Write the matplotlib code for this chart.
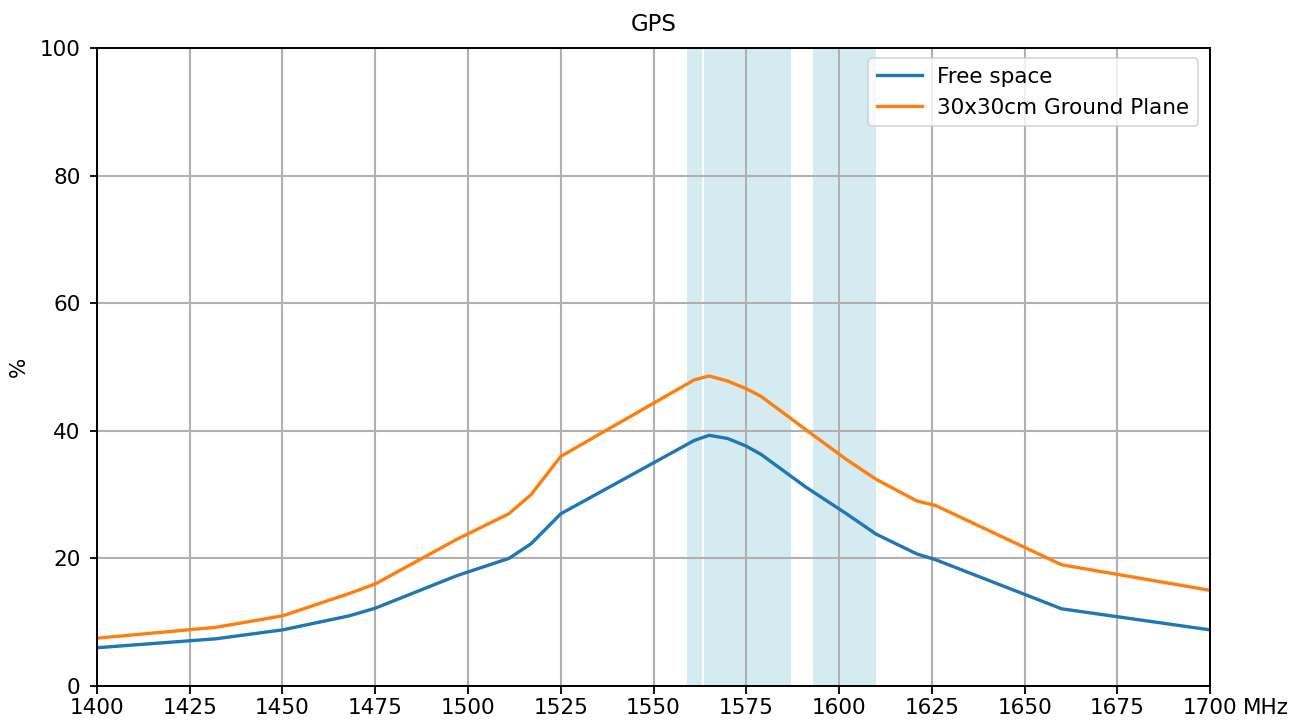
import matplotlib
matplotlib.use("Agg")
import matplotlib.pyplot as plt

freq = [1400, 1432, 1450, 1468, 1475, 1497, 1511, 1517, 1525, 1561, 1565, 1570,
        1575, 1579, 1591, 1602, 1610, 1621, 1626, 1660, 1700]
free_space = [6.0, 7.4, 8.8, 11.0, 12.2, 17.3, 20.0, 22.3, 27.0, 38.5, 39.3, 38.8,
              37.6, 36.3, 31.2, 27.0, 23.8, 20.7, 19.8, 12.1, 8.8]
ground_plane = [7.5, 9.2, 11.0, 14.5, 16.0, 23.0, 27.0, 30.0, 36.0, 48.0, 48.6, 47.8,
                46.6, 45.4, 40.2, 35.5, 32.4, 29.0, 28.3, 19.0, 15.0]
bands = [(1559, 1563), (1563.5, 1587), (1593, 1610)]
xticks = [1400, 1425, 1450, 1475, 1500, 1525, 1550, 1575, 1600, 1625, 1650, 1675, 1700]

fig = plt.figure(figsize=(13.05, 7.2), dpi=100)
ax = fig.add_axes([0.0743, 0.0472, 0.8530, 0.886])

for a, b in bands:
    ax.axvspan(a, b, color="lightblue", alpha=0.5, lw=0, zorder=0)

ax.plot(freq, free_space, color="#1f77b4", lw=2.4, label="Free space")
ax.plot(freq, ground_plane, color="#ff7f0e", lw=2.4, label="30x30cm Ground Plane")

ax.set_xlim(1400, 1700)
ax.set_ylim(0, 100)
ax.set_xticks(xticks)
ax.set_yticks([0, 20, 40, 60, 80, 100])
ax.grid(True, color="#b0b0b0", lw=1.5)
ax.set_axisbelow(True)
ax.tick_params(labelsize=15.5, length=5.4, width=1.3)
ax.tick_params(axis="x", pad=3.5)
ax.tick_params(axis="y", pad=6.5)
for s in ax.spines.values():
    s.set_linewidth(1.4)
ax.set_title("GPS", fontsize=16.5, pad=12)
ax.set_ylabel("%", fontsize=15.5, labelpad=8)
ax.annotate("MHz", xy=(1, 0), xycoords="axes fraction", xytext=(23.5, -8.9),
            textcoords="offset points", fontsize=15.5, ha="left", va="top")

leg = ax.legend(loc="upper right", fontsize=15.5, framealpha=0.8, borderpad=0.4,
                handlelength=2.1, handletextpad=0.7, borderaxespad=0,
                bbox_to_anchor=(0.989, 0.984))
leg.get_frame().set_linewidth(1.2)

fig.savefig("out.png", dpi=100)
